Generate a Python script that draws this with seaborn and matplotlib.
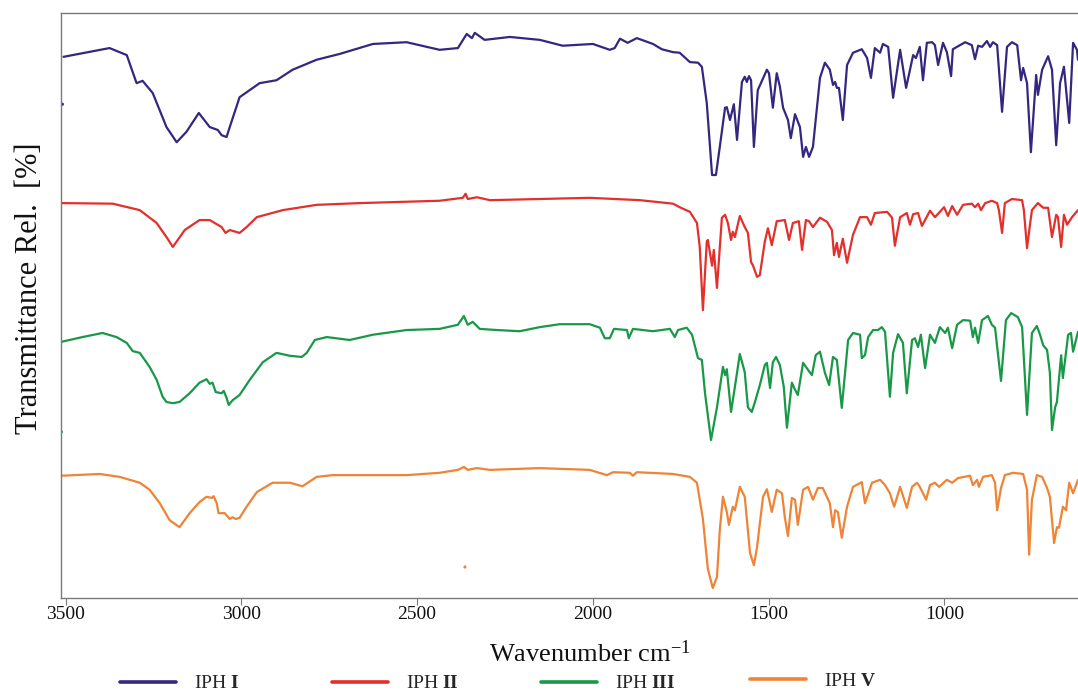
import matplotlib
matplotlib.use("Agg")
import matplotlib.pyplot as plt
import pandas as pd
import seaborn as sns

# FT-IR spectra, stacked: (wavenumber cm-1, relative transmittance %)
spec_I = [
    (3506, 92.5), (3375, 94.0), (3326, 92.8), (3298, 88.0), (3281, 88.4), (3252, 86.3),
    (3213, 80.5), (3184, 77.9), (3156, 79.7), (3121, 82.9), (3090, 80.5), (3067, 80.0),
    (3056, 79.1), (3042, 78.8), (3033, 80.5), (3005, 85.6), (2948, 88.0), (2900, 88.5),
    (2854, 90.3), (2786, 92.0), (2720, 93.0), (2626, 94.7), (2530, 95.0), (2436, 93.7),
    (2384, 94.0), (2359, 96.4), (2344, 95.7), (2336, 96.6), (2308, 95.4), (2236, 95.9),
    (2151, 95.4), (2086, 94.4), (2000, 94.7), (1952, 93.7), (1938, 94.0), (1923, 95.6),
    (1901, 94.9), (1875, 95.7), (1829, 94.7), (1804, 93.8), (1772, 93.3), (1753, 93.2),
    (1724, 91.6), (1701, 91.5), (1690, 90.8), (1676, 84.6), (1661, 72.3), (1650, 72.3),
    (1639, 77.1), (1624, 83.8), (1619, 83.9), (1610, 81.7), (1599, 84.4), (1590, 78.3),
    (1576, 88.2), (1568, 89.1), (1562, 88.2), (1556, 89.2), (1550, 88.5), (1542, 77.1),
    (1531, 86.8), (1505, 90.3), (1499, 89.7), (1488, 83.8), (1477, 89.7), (1468, 87.4),
    (1459, 83.8), (1445, 81.7), (1437, 78.6), (1425, 82.7), (1411, 80.5), (1402, 75.4),
    (1394, 77.1), (1385, 75.4), (1374, 77.1), (1354, 88.9), (1340, 91.5), (1326, 90.3),
    (1317, 87.7), (1311, 88.2), (1306, 87.2), (1300, 87.2), (1289, 81.7), (1277, 91.1),
    (1260, 93.2), (1235, 93.8), (1220, 92.3), (1209, 88.9), (1198, 94.0), (1183, 93.2),
    (1175, 94.7), (1160, 94.2), (1146, 85.5), (1126, 93.7), (1109, 87.2), (1089, 92.8),
    (1081, 92.3), (1070, 94.2), (1061, 88.5), (1050, 94.9), (1035, 95.0), (1027, 94.5),
    (1018, 91.1), (1004, 94.9), (993, 93.3), (981, 89.2), (976, 93.8), (941, 95.0),
    (922, 94.5), (913, 92.1), (904, 94.4), (893, 94.2), (879, 95.2), (870, 94.2),
    (862, 95.0), (850, 94.5), (836, 83.1), (822, 94.2), (808, 95.0), (793, 94.5),
    (782, 88.5), (776, 90.6), (765, 88.0), (754, 76.2), (739, 89.4), (734, 86.0),
    (722, 90.3), (705, 92.6), (694, 90.3), (682, 77.4), (671, 88.0), (660, 90.8),
    (645, 81.2), (634, 94.9), (623, 93.7), (620, 92.0),
]

spec_II = [
    (3511, 67.5), (3366, 67.4), (3289, 66.3), (3241, 64.1), (3213, 61.7), (3195, 60.0),
    (3161, 62.9), (3119, 64.6), (3090, 64.6), (3056, 63.4), (3045, 62.4), (3033, 62.9),
    (3005, 62.4), (2985, 63.4), (2956, 65.1), (2882, 66.3), (2786, 67.2), (2663, 67.5),
    (2436, 67.9), (2370, 68.4), (2362, 69.1), (2356, 68.2), (2330, 68.5), (2293, 68.0),
    (2151, 68.2), (2009, 68.4), (1866, 68.0), (1772, 67.4), (1753, 66.8), (1724, 66.0),
    (1704, 64.1), (1696, 60.0), (1687, 49.2), (1676, 60.9), (1673, 61.2), (1661, 56.8),
    (1656, 59.5), (1647, 53.0), (1633, 65.0), (1624, 65.5), (1616, 64.1), (1607, 61.2),
    (1602, 62.6), (1596, 61.7), (1582, 65.3), (1568, 63.4), (1559, 62.4), (1550, 57.4),
    (1545, 56.9), (1533, 54.9), (1525, 55.2), (1511, 60.9), (1502, 63.2), (1491, 60.3),
    (1477, 64.4), (1454, 64.6), (1442, 61.2), (1431, 64.1), (1414, 64.4), (1405, 59.5),
    (1394, 64.6), (1385, 64.4), (1374, 63.4), (1354, 65.0), (1334, 64.3), (1320, 62.9),
    (1314, 58.6), (1306, 60.7), (1300, 58.3), (1289, 61.4), (1277, 57.3), (1260, 62.1),
    (1240, 65.1), (1220, 65.1), (1209, 63.8), (1198, 65.8), (1163, 66.0), (1149, 65.0),
    (1141, 60.2), (1126, 65.1), (1107, 65.8), (1098, 63.8), (1089, 65.6), (1075, 65.8),
    (1064, 63.6), (1055, 64.6), (1041, 66.2), (1027, 65.1), (1013, 66.0), (1001, 66.8),
    (990, 65.3), (978, 67.0), (964, 65.5), (947, 67.2), (922, 67.4), (913, 66.8),
    (904, 67.4), (896, 66.3), (884, 67.5), (865, 67.9), (850, 67.5), (845, 66.3),
    (836, 62.4), (828, 67.5), (808, 68.2), (779, 68.0), (774, 66.3), (765, 59.8),
    (756, 64.1), (751, 66.3), (734, 67.5), (719, 66.7), (705, 66.7), (694, 61.7),
    (682, 65.5), (677, 65.1), (668, 60.0), (660, 65.5), (651, 63.8), (637, 65.1),
    (620, 66.3),
]

spec_III = [
    (3511, 43.8), (3452, 44.6), (3395, 45.3), (3355, 44.6), (3326, 43.6), (3309, 42.2),
    (3289, 41.9), (3261, 39.5), (3241, 37.3), (3224, 34.4), (3213, 33.5), (3195, 33.3),
    (3176, 33.5), (3147, 35.0), (3119, 36.8), (3099, 37.4), (3090, 36.6), (3082, 36.8),
    (3073, 35.2), (3056, 35.0), (3050, 35.4), (3042, 34.2), (3036, 33.0), (3025, 33.8),
    (3005, 34.7), (2976, 37.3), (2939, 40.3), (2900, 41.9), (2862, 41.4), (2828, 41.2),
    (2814, 41.9), (2791, 44.1), (2757, 44.6), (2692, 44.1), (2626, 45.0), (2530, 45.8),
    (2436, 46.0), (2384, 46.7), (2367, 48.2), (2356, 46.7), (2342, 47.2), (2322, 46.0),
    (2273, 45.8), (2208, 45.6), (2151, 46.3), (2094, 46.8), (2009, 46.8), (1980, 46.2),
    (1966, 44.4), (1952, 44.4), (1940, 46.0), (1903, 45.8), (1898, 44.4), (1886, 46.0),
    (1829, 45.6), (1781, 46.0), (1767, 44.6), (1758, 45.8), (1733, 46.2), (1718, 45.0),
    (1701, 41.0), (1690, 40.7), (1681, 35.0), (1664, 27.0), (1647, 32.6), (1630, 39.5),
    (1624, 38.1), (1619, 39.1), (1616, 37.3), (1607, 31.8), (1596, 36.1), (1582, 41.7),
    (1568, 38.6), (1559, 32.6), (1548, 31.8), (1539, 33.5), (1525, 36.4), (1511, 39.8),
    (1505, 40.2), (1496, 35.9), (1488, 40.3), (1479, 41.2), (1468, 39.8), (1457, 36.1),
    (1448, 29.1), (1434, 36.8), (1425, 35.6), (1417, 34.7), (1402, 40.2), (1388, 39.0),
    (1377, 38.1), (1366, 41.5), (1354, 42.1), (1340, 38.5), (1328, 36.4), (1317, 41.2),
    (1306, 40.7), (1292, 32.5), (1274, 44.1), (1260, 45.3), (1240, 45.0), (1235, 41.0),
    (1226, 41.5), (1217, 44.6), (1203, 45.8), (1189, 45.8), (1178, 46.3), (1169, 45.5),
    (1155, 34.4), (1146, 41.9), (1132, 45.1), (1118, 43.6), (1107, 35.0), (1092, 44.1),
    (1084, 44.4), (1075, 42.9), (1067, 45.0), (1055, 39.3), (1041, 45.0), (1027, 43.6),
    (1013, 46.3), (998, 45.3), (990, 46.2), (978, 42.7), (964, 46.7), (947, 47.5),
    (927, 47.4), (919, 44.6), (913, 46.2), (904, 43.6), (893, 47.5), (876, 48.2),
    (865, 46.7), (856, 46.2), (839, 37.1), (825, 47.5), (810, 48.7), (791, 48.0),
    (779, 46.3), (765, 31.3), (751, 45.3), (737, 46.5), (728, 45.0), (719, 43.2),
    (708, 42.4), (700, 38.5), (694, 28.7), (685, 32.6), (680, 33.5), (668, 41.5),
    (663, 37.6), (648, 45.0), (640, 45.3), (634, 42.1), (620, 45.5),
]

spec_V = [
    (3511, 20.9), (3403, 21.2), (3346, 20.7), (3289, 19.7), (3261, 18.5), (3232, 16.2),
    (3204, 13.3), (3176, 12.1), (3147, 14.5), (3119, 16.4), (3099, 17.3), (3084, 17.1),
    (3079, 17.4), (3070, 16.2), (3065, 14.5), (3047, 14.5), (3033, 13.5), (3025, 13.8),
    (3016, 13.5), (3005, 13.7), (2985, 15.6), (2956, 18.1), (2911, 19.7), (2862, 19.7),
    (2826, 19.1), (2786, 20.7), (2740, 21.0), (2663, 21.0), (2530, 21.0), (2436, 21.4),
    (2384, 21.9), (2367, 22.4), (2356, 21.9), (2330, 22.2), (2293, 21.9), (2151, 22.2),
    (2009, 21.9), (1960, 21.0), (1943, 21.5), (1895, 21.4), (1886, 20.9), (1875, 21.5),
    (1772, 21.2), (1724, 20.7), (1704, 19.7), (1687, 13.5), (1673, 5.0), (1659, 1.7),
    (1647, 3.6), (1639, 11.6), (1630, 17.3), (1619, 14.7), (1613, 12.5), (1602, 15.6),
    (1596, 15.0), (1582, 19.0), (1568, 17.3), (1553, 7.7), (1542, 5.6), (1533, 8.7),
    (1516, 17.3), (1505, 18.6), (1491, 14.7), (1477, 18.5), (1462, 17.9), (1454, 13.8),
    (1445, 10.6), (1434, 17.1), (1425, 16.8), (1417, 12.5), (1402, 18.5), (1388, 19.0),
    (1374, 16.8), (1360, 18.8), (1346, 18.8), (1326, 16.2), (1317, 12.1), (1311, 15.0),
    (1303, 14.7), (1292, 10.3), (1277, 15.6), (1260, 19.0), (1235, 19.8), (1226, 16.2),
    (1206, 19.7), (1183, 20.2), (1169, 19.3), (1155, 17.9), (1143, 15.6), (1126, 19.0),
    (1107, 15.4), (1092, 19.0), (1078, 19.7), (1070, 19.0), (1052, 16.8), (1041, 19.3),
    (1027, 19.7), (1015, 19.0), (993, 20.2), (978, 19.7), (961, 20.5), (927, 20.9),
    (919, 19.3), (907, 20.2), (902, 19.0), (890, 20.7), (865, 21.0), (856, 19.7),
    (850, 15.0), (839, 18.8), (828, 21.0), (805, 21.4), (776, 21.2), (765, 18.5),
    (759, 7.4), (751, 16.8), (737, 21.0), (722, 20.7), (708, 18.8), (700, 17.3),
    (688, 9.4), (680, 12.1), (674, 12.0), (663, 15.6), (654, 15.0), (645, 19.7),
    (634, 17.9), (620, 20.2),
]

# isolated single readings belonging to spectra I, III and V
stray_wn = [3509, 3512, 2364]
stray_t = [84.4, 28.4, 5.3]

labels = ["IPH $\\mathbf{I}$", "IPH $\\mathbf{II}$", "IPH $\\mathbf{III}$", "IPH $\\mathbf{V}$"]
colors = ["#34277f", "#e2302c", "#199847", "#ef8336"]
x_ticks = [3500, 3000, 2500, 2000, 1500, 1000]

sns.set_theme(style="white")
plt.rcParams["font.family"] = ["Liberation Serif", "DejaVu Serif"]
plt.rcParams["mathtext.fontset"] = "custom"
plt.rcParams["mathtext.rm"] = "Liberation Serif"
plt.rcParams["mathtext.it"] = "Liberation Serif:italic"
plt.rcParams["mathtext.bf"] = "Liberation Serif:bold"

fig = plt.figure(figsize=(10.78, 6.93), dpi=100)
ax = fig.add_axes([0.0566, 0.1371, 0.9434, 0.8442])

for pts, lab, col in zip([spec_I, spec_II, spec_III, spec_V], labels, colors):
    df = pd.DataFrame(pts, columns=["wavenumber", "transmittance"])
    sns.lineplot(data=df, x="wavenumber", y="transmittance", ax=ax, color=col,
                 linewidth=1.6, estimator=None, sort=False, label=lab,
                 solid_joinstyle="round", solid_capstyle="round")

stray_df = pd.DataFrame({"wavenumber": stray_wn, "transmittance": stray_t,
                         "series": ["I", "III", "V"]})
sns.scatterplot(data=stray_df, x="wavenumber", y="transmittance", hue="series",
                palette=[colors[0], colors[2], colors[3]], s=5, linewidth=0,
                ax=ax, legend=False)

ax.set_xlim(3513, 620)
ax.set_ylim(0, 100)
ax.set_yticks([])
ax.set_xticks(x_ticks)
ax.set_xticklabels([str(t) for t in x_ticks])
ax.tick_params(axis="x", bottom=True, direction="out", length=5, width=0.8,
               color="#7a7a7a", labelsize=14, pad=1, labelcolor="#111111")

for side in ["left", "bottom", "top"]:
    ax.spines[side].set_color("#7a7a7a")
    ax.spines[side].set_linewidth(1.0)
ax.spines["right"].set_visible(False)

ax.set_xlabel("Wavenumber cm$^{-1}$", fontsize=19, color="#111111")
ax.xaxis.set_label_coords(0.52, -0.072)
ax.set_ylabel("Transmittance Rel.  [%]", fontsize=22, color="#111111")
ax.yaxis.set_label_coords(-0.017, 0.53)

# one legend entry per series, spread along the bottom edge
handles, labs = ax.get_legend_handles_labels()
ax.get_legend().remove()
entry_x = [120, 332, 541, 750]
entry_y = [9.5, 9.5, 9.5, 12.0]
for h, lab, ex, ey in zip(handles, labs, entry_x, entry_y):
    leg = fig.legend([h], [lab], loc="center left",
                     bbox_to_anchor=(ex / 1078, ey / 693),
                     frameon=False, fontsize=14, handlelength=2.9,
                     handletextpad=0.9, borderpad=0, borderaxespad=0)
    for line in leg.get_lines():
        line.set_linewidth(2.6)

fig.savefig("out.png", dpi=100)
